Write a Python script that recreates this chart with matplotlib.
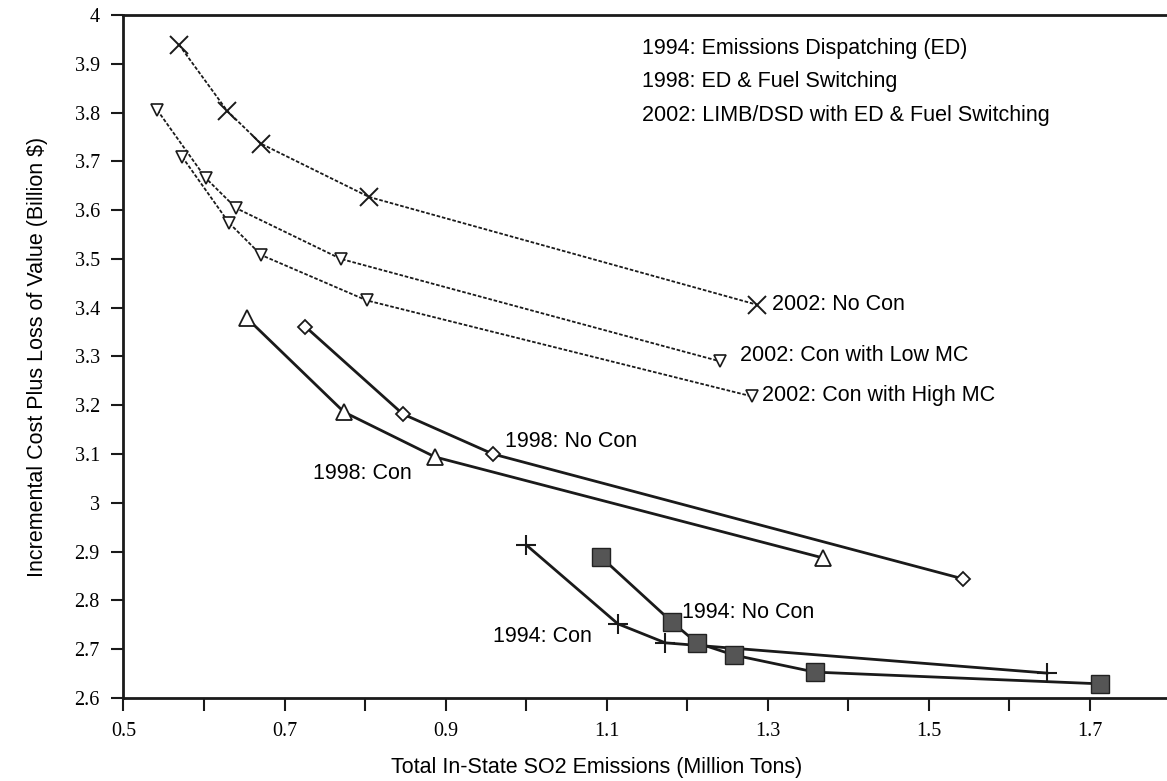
import matplotlib
matplotlib.use("Agg")
import matplotlib.pyplot as plt
from matplotlib.ticker import MultipleLocator, FuncFormatter

# values (x: million tons, y: billion $)
nocon_2002_x = [0.569, 0.629, 0.671, 0.805, 1.287]
nocon_2002_y = [3.939, 3.803, 3.736, 3.627, 3.406]

lowmc_2002_x = [0.542, 0.602, 0.640, 0.770, 1.241]
lowmc_2002_y = [3.805, 3.666, 3.604, 3.500, 3.290]

highmc_2002_x = [0.573, 0.631, 0.671, 0.802, 1.281]
highmc_2002_y = [3.709, 3.574, 3.508, 3.415, 3.218]

nocon_1998_x = [0.726, 0.847, 0.959, 1.543]
nocon_1998_y = [3.361, 3.182, 3.100, 2.844]

con_1998_x = [0.653, 0.774, 0.887, 1.369]
con_1998_y = [3.379, 3.186, 3.094, 2.887]

con_1994_x = [1.000, 1.114, 1.173, 1.647]
con_1994_y = [2.914, 2.752, 2.713, 2.651]

nocon_1994_x = [1.093, 1.181, 1.212, 1.258, 1.359, 1.713]
nocon_1994_y = [2.889, 2.756, 2.713, 2.688, 2.653, 2.629]

notes = ["1994: Emissions Dispatching (ED)",
         "1998: ED & Fuel Switching",
         "2002: LIMB/DSD with ED & Fuel Switching"]

plt.rcParams['font.family'] = ['Liberation Sans', 'DejaVu Sans']
ink = "#1a1a1a"

fig = plt.figure(figsize=(11.67, 7.81), dpi=100)
ax = fig.add_axes([0.1058, 0.1063, 0.8942, 0.8745])

dash = (0, (2.0, 1.0))
ax.plot(nocon_2002_x, nocon_2002_y, color=ink, lw=1.3, ls=dash, marker='x',
        ms=13, mew=1.4)
ax.plot(lowmc_2002_x, lowmc_2002_y, color=ink, lw=1.3, ls=dash, marker='v',
        ms=9, mfc='white', mew=1.2)
ax.plot(highmc_2002_x, highmc_2002_y, color=ink, lw=1.3, ls=dash, marker='v',
        ms=9, mfc='white', mew=1.2)
ax.plot(nocon_1998_x, nocon_1998_y, color=ink, lw=2.0, marker='D',
        ms=7, mfc='white', mew=1.3)
ax.plot(con_1998_x, con_1998_y, color=ink, lw=2.0, marker='^',
        ms=11, mfc='white', mew=1.3)
ax.plot(con_1994_x, con_1994_y, color=ink, lw=2.0, marker='+',
        ms=14, mew=1.5)
ax.plot(nocon_1994_x, nocon_1994_y, color=ink, lw=2.0, marker='s',
        ms=12.5, mfc='#555555', mec='#222222', mew=1.0)

# curve labels
fs = 15.5
ax.text(1.306, 3.406, "2002: No Con", fontsize=fs, va='center')
ax.text(1.266, 3.301, "2002: Con with Low MC", fontsize=fs, va='center')
ax.text(1.293, 3.221, "2002: Con with High MC", fontsize=fs, va='center')
ax.text(0.974, 3.125, "1998: No Con", fontsize=fs, va='center')
ax.text(0.735, 3.061, "1998: Con", fontsize=fs, va='center')
ax.text(1.194, 2.776, "1994: No Con", fontsize=fs, va='center')
ax.text(0.959, 2.725, "1994: Con", fontsize=fs, va='center')
for i, t in enumerate(notes):
    ax.text(1.144, 3.932 - i * 0.0685, t, fontsize=fs, va='center')

ax.set_xlim(0.5, 1.796)
ax.set_ylim(2.6, 4.0)
ax.xaxis.set_major_locator(MultipleLocator(0.1))
ax.xaxis.set_major_formatter(FuncFormatter(
    lambda v, p: ("%.1f" % v) if round(v * 10) % 2 == 1 else ""))
ax.yaxis.set_major_locator(MultipleLocator(0.1))
ax.yaxis.set_major_formatter(FuncFormatter(lambda v, p: "%g" % round(v, 1)))

for lab in ax.get_xticklabels() + ax.get_yticklabels():
    lab.set_fontfamily('Liberation Serif')
    lab.set_fontsize(14.5)
ax.tick_params(direction='out', length=9, width=1.5, color=ink, pad=8)

for s in ['left', 'bottom', 'top']:
    ax.spines[s].set_linewidth(2.0)
    ax.spines[s].set_color(ink)
ax.spines['right'].set_visible(False)

ax.set_xlabel("Total In-State SO2 Emissions (Million Tons)", fontsize=fs)
ax.set_ylabel("Incremental Cost Plus Loss of Value (Billion $)", fontsize=fs)
ax.xaxis.set_label_coords(0.453, -0.087)
ax.yaxis.set_label_coords(-0.072, 0.5)

fig.savefig("out.png", dpi=100)
